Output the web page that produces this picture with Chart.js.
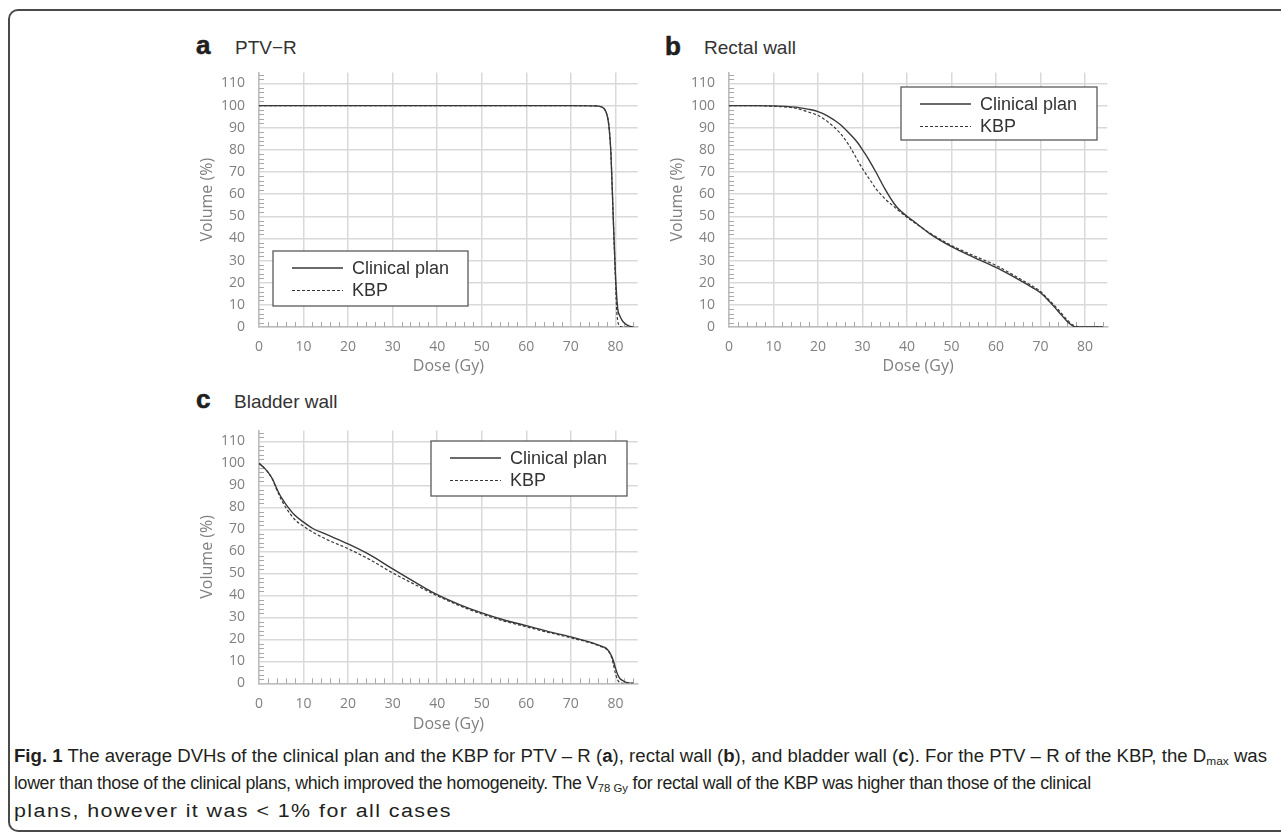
<!DOCTYPE html>
<html>
<head>
<meta charset="utf-8">
<script src="https://cdn.jsdelivr.net/npm/chart.js@4.4.1/dist/chart.umd.min.js"></script>
<style>
    body { margin: 0; background: #fff; width: 1281px; height: 832px; overflow: hidden; position: relative; font-family: "Liberation Sans", Arial, sans-serif; }
    #frame { position: absolute; left: 8px; top: 9px; width: 1300px; height: 819px; border: 2px solid #4a4a4a; border-radius: 10px; }
    canvas { position: absolute; }
    .lbl { position: absolute; font-weight: bold; font-size: 26px; color: #1f1f1f; line-height: 1; -webkit-text-stroke: 0.6px #1f1f1f; }
    .ttl { position: absolute; font-size: 19px; color: #333; line-height: 1; white-space: nowrap; }
    #caption { position: absolute; left: 14px; top: 742.5px; font-family: "Liberation Sans Narrow", "Liberation Sans", sans-serif; font-size: 18px; line-height: 27.5px; color: #231f20; }
    #caption div { white-space: nowrap; transform-origin: 0 0; width: max-content; }
    #caption sub { font-size: 11.5px; vertical-align: -3px; line-height: 0; letter-spacing: 0; }
</style>
</head>
<body>
<div id="frame"></div>

<div class="lbl" style="left:196px;top:32px">a</div>
<div class="ttl" style="left:235px;top:38px">PTV−R</div>
<div class="lbl" style="left:665px;top:33px">b</div>
<div class="ttl" style="left:704px;top:38px">Rectal wall</div>
<div class="lbl" style="left:196px;top:386px">c</div>
<div class="ttl" style="left:234px;top:392px">Bladder wall</div>

<canvas id="chartA" width="460" height="335" style="left:190px;top:50px"></canvas>
<canvas id="chartB" width="460" height="335" style="left:660px;top:50px"></canvas>
<canvas id="chartC" width="460" height="335" style="left:190px;top:408px"></canvas>

<div id="caption">
    <div data-end="1267"><b>Fig. 1</b> The average DVHs of the clinical plan and the KBP for PTV – R (<b>a</b>), rectal wall (<b>b</b>), and bladder wall (<b>c</b>). For the PTV – R of the KBP, the D<sub>max</sub> was</div>
    <div data-end="1089">lower than those of the clinical plans, which improved the homogeneity. The V<sub>78 Gy</sub> for rectal wall of the KBP was higher than those of the clinical</div>
    <div data-end="452">plans, however it was &lt; 1% for all cases</div>
</div>

<script>
'use strict';

// panel a: PTV-R
var ptvClinicalDose = [0, 70, 75, 76, 77, 77.5, 78, 78.5, 79, 79.5, 80, 80.5, 81, 81.5, 82, 83, 84];
var ptvClinicalVol = [100, 100, 99.9, 99.8, 99.3, 98.5, 96.5, 91.5, 78, 50, 24, 8.5, 5, 3, 1.8, 0.5, 0];
var ptvKbpDose = [0, 70, 75, 76, 77, 77.5, 78, 78.5, 79, 79.5, 80, 80.25, 80.5, 81, 81.5, 84];
var ptvKbpVol = [100, 100, 99.9, 99.8, 99.3, 98.5, 96.5, 91.5, 78, 50, 22, 9, 3, 0.5, 0, 0];

// panel b: rectal wall
var rectClinicalDose = [0, 5, 10, 15, 18, 20, 22, 25, 27, 29, 30, 31, 33, 35, 37, 38, 40, 42, 45, 50, 55, 60, 65, 68, 70, 72, 74, 76, 77, 78, 84];
var rectClinicalVol = [100, 100, 99.9, 99.3, 98.3, 97.3, 95.5, 91.5, 87.5, 83, 80, 77, 70, 62.5, 56, 53.5, 50, 47, 42.3, 36.3, 31.5, 26.9, 21.5, 18, 15.5, 11.5, 7, 2.5, 0.8, 0, 0];
var rectKbpDose = [0, 5, 10, 15, 18, 20, 22, 25, 27, 28, 30, 32, 33, 35, 37, 40, 42, 45, 50, 55, 60, 65, 68, 70, 72, 74, 76, 77, 78, 79, 84];
var rectKbpVol = [100, 100, 99.7, 98.8, 97, 95.5, 93, 87.5, 82, 78.5, 71.5, 65.5, 62.5, 58, 54.5, 49.5, 46.7, 42.6, 36.8, 32.2, 27.8, 22.2, 18.7, 16, 12, 7.8, 3.2, 1.3, 0.3, 0, 0];

// panel c: bladder wall
var bladClinicalDose = [0, 1, 2, 3, 4, 5, 6, 8, 10, 12, 15, 20, 25, 30, 35, 40, 45, 50, 55, 60, 65, 70, 75, 77, 78, 79, 79.5, 80, 80.5, 81, 82, 83, 84];
var bladClinicalVol = [100, 98.3, 96, 93, 88.5, 84.5, 81.5, 76.5, 73.3, 70.5, 67.8, 63.4, 58.3, 52, 46, 40.3, 35.8, 32, 28.8, 26.2, 23.5, 21.1, 18.3, 16.8, 15.8, 13, 10.5, 7, 4, 2.2, 0.8, 0.2, 0];
var bladKbpDose = [0, 1, 2, 3, 4, 5, 6, 8, 10, 12, 15, 20, 25, 30, 35, 40, 45, 50, 55, 60, 65, 70, 75, 77, 78, 79, 79.5, 80, 80.5, 81, 81.5, 84];
var bladKbpVol = [100, 98.3, 96, 92.8, 88, 83.5, 80, 74.5, 71.4, 68.8, 65.6, 61.2, 56.1, 50.2, 44.9, 39.8, 35.3, 31.5, 28.3, 25.7, 23.1, 20.7, 18, 16.5, 15.5, 12.5, 9, 4.5, 1.5, 0.3, 0, 0];

var seriesNames = ['Clinical plan', 'KBP'];
var xTickValues = [0, 10, 20, 30, 40, 50, 60, 70, 80];
var yTickValues = [0, 10, 20, 30, 40, 50, 60, 70, 80, 90, 100, 110];

function pairs(xs, ys) {
    return xs.map(function (x, i) { return {x: x, y: ys[i]}; });
}

// small ticks every 2 units inside the plot, like the Excel original
var minorTicks = {
    id: 'minorTicks',
    beforeDatasetsDraw: function (chart) {
        var ctx = chart.ctx, area = chart.chartArea, x = chart.scales.x, y = chart.scales.y, v, p;
        ctx.save();
        ctx.strokeStyle = '#a8a8a8';
        ctx.lineWidth = 1;
        ctx.beginPath();
        for (v = 2; v < x.max; v += 2) {
            if (v % 10 === 0) { continue; }
            p = Math.round(x.getPixelForValue(v)) + 0.5;
            ctx.moveTo(p, area.bottom);
            ctx.lineTo(p, area.bottom - 5);
        }
        for (v = 2; v < y.max; v += 2) {
            if (v % 10 === 0) { continue; }
            p = Math.round(y.getPixelForValue(v)) + 0.5;
            ctx.moveTo(area.left, p);
            ctx.lineTo(area.left + 5, p);
        }
        ctx.stroke();
        ctx.restore();
    }
};

// boxed legend sitting inside the plot
var boxLegend = {
    id: 'boxLegend',
    afterDatasetsDraw: function (chart, args, opts) {
        var ctx = chart.ctx;
        ctx.save();
        ctx.fillStyle = '#fff';
        ctx.fillRect(opts.left, opts.top, opts.width, opts.height);
        ctx.strokeStyle = '#5a5a5a';
        ctx.lineWidth = 1.3;
        ctx.strokeRect(opts.left, opts.top, opts.width, opts.height);
        chart.data.datasets.forEach(function (ds, i) {
            var ry = opts.top + 17 + i * 22.5;
            ctx.beginPath();
            ctx.setLineDash(ds.borderDash || []);
            ctx.strokeStyle = ds.borderColor;
            ctx.lineWidth = ds.borderWidth;
            ctx.moveTo(opts.left + 19, ry);
            ctx.lineTo(opts.left + 70, ry);
            ctx.stroke();
            ctx.setLineDash([]);
            ctx.fillStyle = '#333';
            ctx.font = '18px "Liberation Sans", Arial, sans-serif';
            ctx.textBaseline = 'middle';
            ctx.fillText(ds.label, opts.left + 79, ry + 1);
        });
        ctx.restore();
    }
};

function keepTicks(values) {
    return function (scale) {
        scale.ticks = values.map(function (v) { return {value: v}; });
    };
}

function makeChart(id, clinical, kbp, legendPos, padRight, padTop, xAxisHeight) {
    return new Chart(document.getElementById(id), {
        type: 'line',
        data: {
            datasets: [
                {label: seriesNames[0], data: clinical, borderColor: '#383838', borderWidth: 1.4, pointRadius: 0, cubicInterpolationMode: 'monotone', fill: false},
                {label: seriesNames[1], data: kbp, borderColor: '#383838', borderWidth: 1.2, borderDash: [3, 2], pointRadius: 0, cubicInterpolationMode: 'monotone', fill: false}
            ]
        },
        options: {
            responsive: false,
            animation: false,
            devicePixelRatio: 1,
            layout: {padding: {top: padTop, right: padRight, left: 0, bottom: 0}},
            plugins: {legend: {display: false}, tooltip: {enabled: false}, boxLegend: legendPos},
            scales: {
                x: {
                    type: 'linear', min: 0, max: 85,
                    afterBuildTicks: keepTicks(xTickValues),
                    afterFit: function (scale) { scale.height = xAxisHeight; },
                    grid: {color: '#d9d9d9', lineWidth: 1.5, drawTicks: false},
                    border: {color: '#bdbdbd', width: 1.5},
                    ticks: {color: '#808080', padding: 12, font: {family: '"Open Sans"', size: 14}, maxRotation: 0},
                    title: {display: true, text: 'Dose (Gy)', color: '#808080', font: {family: '"Open Sans"', size: 16}, padding: 9}
                },
                y: {
                    min: 0, max: 115,
                    afterBuildTicks: keepTicks(yTickValues),
                    afterFit: function (scale) { scale.width = 69; },
                    grid: {color: '#d9d9d9', lineWidth: 1.5, drawTicks: false},
                    border: {color: '#bdbdbd', width: 1.5},
                    ticks: {color: '#808080', padding: 14, font: {family: '"Open Sans"', size: 14}},
                    title: {display: true, text: 'Volume (%)', color: '#808080', font: {family: '"Open Sans"', size: 16}, padding: 8}
                }
            }
        },
        plugins: [minorTicks, boxLegend]
    });
}

makeChart('chartA', pairs(ptvClinicalDose, ptvClinicalVol), pairs(ptvKbpDose, ptvKbpVol),
    {left: 83, top: 201, width: 195, height: 55}, 12.3, 12, 58);
makeChart('chartB', pairs(rectClinicalDose, rectClinicalVol), pairs(rectKbpDose, rectKbpVol),
    {left: 241, top: 37, width: 196, height: 53}, 12.7, 12, 58);
makeChart('chartC', pairs(bladClinicalDose, bladClinicalVol), pairs(bladKbpDose, bladKbpVol),
    {left: 241, top: 33, width: 196, height: 55}, 12.3, 12.7, 59.7);

// caption lines: the first sets the squeeze; the others share the gap
// between their natural width and the printed one half by scale, half by spacing
(function () {
    var lines = document.querySelectorAll('#caption div');
    var base = lines[0].getBoundingClientRect().width;
    var k = (Number(lines[0].dataset.end) - 14) / base;
    lines[0].style.transform = 'scaleX(' + k + ')';
    lines.forEach(function (l, i) {
        if (i === 0) { return; }
        var have = l.getBoundingClientRect().width;
        var want = Number(l.dataset.end) - 14;
        var r = want / (have * k);
        var s = k * Math.sqrt(r);
        l.style.transform = 'scaleX(' + s + ')';
        l.style.letterSpacing = ((want / s - have) / l.textContent.length) + 'px';
    });
}());
</script>
</body>
</html>
